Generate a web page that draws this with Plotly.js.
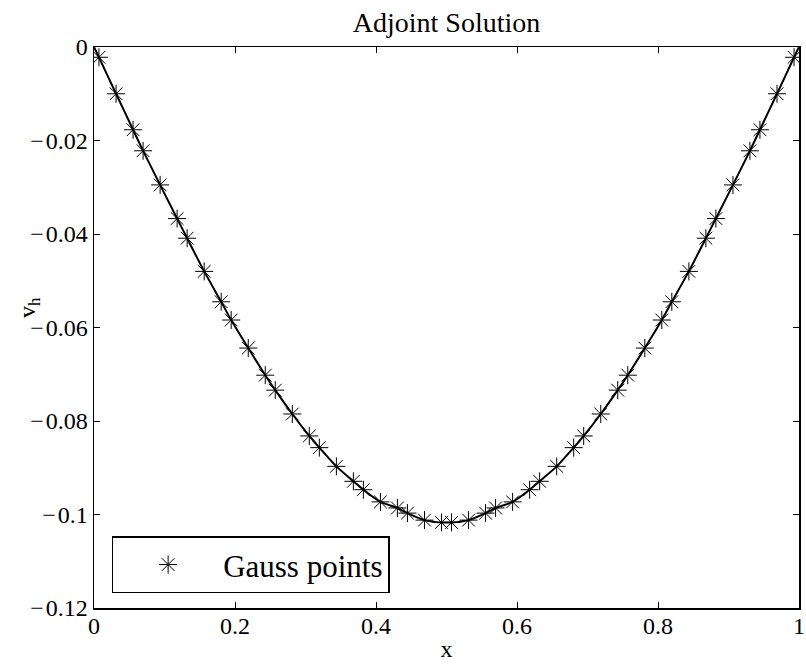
<!DOCTYPE html>
<html>
<head>
<meta charset="utf-8">
<script src="https://cdn.plot.ly/plotly-3.0.1.min.js"></script>
<style>html,body{margin:0;padding:0;background:#fff;}#chart{width:806px;height:666px;}</style>
</head>
<body>
<div id="chart"></div>
<script>
// Gauss point abscissae
const gaussX = [0.0070, 0.0313, 0.0554, 0.0696, 0.0938, 0.1179, 0.1321, 0.1563,
  0.1804, 0.1946, 0.2188, 0.2429, 0.2571, 0.2813, 0.3054, 0.3196,
  0.3438, 0.3679, 0.3821, 0.4063, 0.4304, 0.4446, 0.4688, 0.4929,
  0.5071, 0.5313, 0.5554, 0.5696, 0.5938, 0.6179, 0.6321, 0.6563,
  0.6804, 0.6946, 0.7188, 0.7429, 0.7571, 0.7813, 0.8054, 0.8196,
  0.8438, 0.8679, 0.8821, 0.9063, 0.9304, 0.9446, 0.9688, 0.9930];
// v_h at Gauss points
const gaussY = [-0.0022, -0.0100, -0.0177, -0.0222, -0.0295, -0.0367, -0.0409, -0.0480,
  -0.0545, -0.0584, -0.0644, -0.0702, -0.0734, -0.0785, -0.0832, -0.0857,
  -0.0897, -0.0929, -0.0947, -0.0973, -0.0986, -0.0997, -0.1012, -0.1017,
  -0.1017, -0.1012, -0.0997, -0.0986, -0.0973, -0.0947, -0.0929, -0.0897,
  -0.0857, -0.0832, -0.0785, -0.0734, -0.0702, -0.0644, -0.0584, -0.0545,
  -0.0480, -0.0409, -0.0367, -0.0295, -0.0222, -0.0177, -0.0100, -0.0022];
// boundary values of the solution curve
const boundaryX = [0, 1];
const boundaryY = [0, 0];

const xTickVals = [0, 0.2, 0.4, 0.6, 0.8, 1];
const xTickText = ['0', '0.2', '0.4', '0.6', '0.8', '1'];
const yTickVals = [0, -0.02, -0.04, -0.06, -0.08, -0.1, -0.12];
const M = '\u2212\u200a';
const yTickText = ['0', M + '0.02', M + '0.04', M + '0.06', M + '0.08', M + '0.1', M + '0.12'];

const lineX = [boundaryX[0]].concat(gaussX, [boundaryX[1]]);
const lineY = [boundaryY[0]].concat(gaussY, [boundaryY[1]]);

const FONT = 'Liberation Serif, Times New Roman, serif';

const traces = [
  {
    x: lineX, y: lineY, type: 'scatter', mode: 'lines',
    line: {color: '#000', width: 2, shape: 'spline', smoothing: 0.6},
    showlegend: false, hoverinfo: 'skip'
  },
  {
    x: gaussX, y: gaussY, type: 'scatter', mode: 'markers',
    name: 'Gauss points',
    marker: {symbol: 'asterisk-open', size: 15, color: '#000', line: {color: '#000', width: 1}}
  }
];

const axisCommon = {
  showline: true, linecolor: '#000', linewidth: 1.5, mirror: 'ticks',
  ticks: 'inside', ticklen: 6, tickwidth: 1, tickcolor: '#000',
  showgrid: false, zeroline: false, tickmode: 'array',
  ticklabeloverflow: 'allow',
  tickfont: {family: FONT, size: 24, color: '#000'}
};

const layout = {
  width: 806, height: 666,
  margin: {l: 94, r: 7, t: 47, b: 58, pad: 0},
  paper_bgcolor: '#fff', plot_bgcolor: '#fff',
  font: {family: FONT, color: '#000'},
  title: {text: 'Adjoint Solution', font: {family: FONT, size: 28, color: '#000'},
          x: 0.5, xref: 'paper', y: 1 - 22/666, yref: 'container', yanchor: 'middle'},
  xaxis: Object.assign({}, axisCommon, {
    range: [0, 1], tickvals: xTickVals, ticktext: xTickText,
    ticklabelstandoff: -4,
    title: {text: 'x', font: {family: FONT, size: 24, color: '#000'}, standoff: 2}
  }),
  yaxis: Object.assign({}, axisCommon, {
    range: [-0.12, 0], tickvals: yTickVals, ticktext: yTickText
  }),
  annotations: [{
    text: 'v<sub>h</sub>', xref: 'paper', yref: 'paper',
    x: -0.092, y: 0.535, xanchor: 'center', yanchor: 'middle',
    textangle: -90, showarrow: false,
    font: {family: FONT, size: 24, color: '#000'}
  }],
  legend: {
    x: 0.025, y: 0.026, xanchor: 'left', yanchor: 'bottom',
    bgcolor: '#fff', bordercolor: '#000', borderwidth: 1.5,
    font: {family: FONT, size: 31, color: '#000'},
    itemwidth: 100
  },
  showlegend: true
};

Plotly.newPlot('chart', traces, layout, {displayModeBar: false, staticPlot: true});
</script>
</body>
</html>
